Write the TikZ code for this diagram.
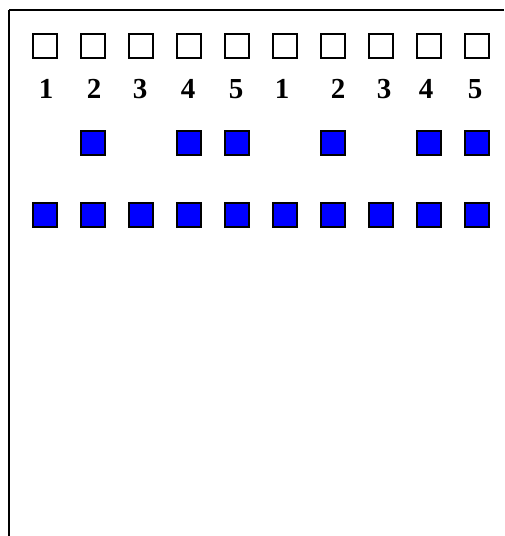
\documentclass[tikz,border=0pt]{standalone}
\usepackage{fontspec}
\setmainfont{Liberation Serif}
\definecolor{sqblue}{RGB}{0,0,255}
\begin{document}
\begin{tikzpicture}[x=1pt,y=-1pt,
  emptysq/.style={draw=black,line width=2pt,fill=white,minimum size=24pt,inner sep=0pt,outer sep=0pt},
  bluesq/.style={draw=black,line width=2pt,fill=sqblue,minimum size=24pt,inner sep=0pt,outer sep=0pt},
  lbl/.style={font=\fontsize{29}{30}\selectfont\bfseries,anchor=base,inner sep=0pt}]
\useasboundingbox (0,0) rectangle (504,536);
\coordinate (tl) at (9,10);
\coordinate (tr) at (504,10);
\coordinate (bl) at (9,536);
\draw[line width=1.4pt] (tl) -- (tr);
\draw[line width=2.6pt] (tl) -- (bl);
% columns
\foreach \i/\x in {1/44.5,2/92.5,3/140.5,4/188.5,5/236.5,6/284.5,7/332.5,8/380.5,9/428.5,10/476.5}{
  \node[emptysq] (e\i) at (\x,45.5) {};
  \node[bluesq] (c\i) at (\x,214.5) {};
}
\foreach \i/\x in {2/92.5,4/188.5,5/236.5,7/332.5,9/428.5,10/476.5}{
  \node[bluesq] (b\i) at (\x,142.5) {};
}
\foreach \i/\x/\t in {1/46/1,2/94/2,3/140/3,4/188/4,5/236/5,6/282/1,7/338/2,8/384/3,9/426/4,10/475/5}{
  \node[lbl] (l\i) at (\x,98) {\t};
}
\end{tikzpicture}
\end{document}
